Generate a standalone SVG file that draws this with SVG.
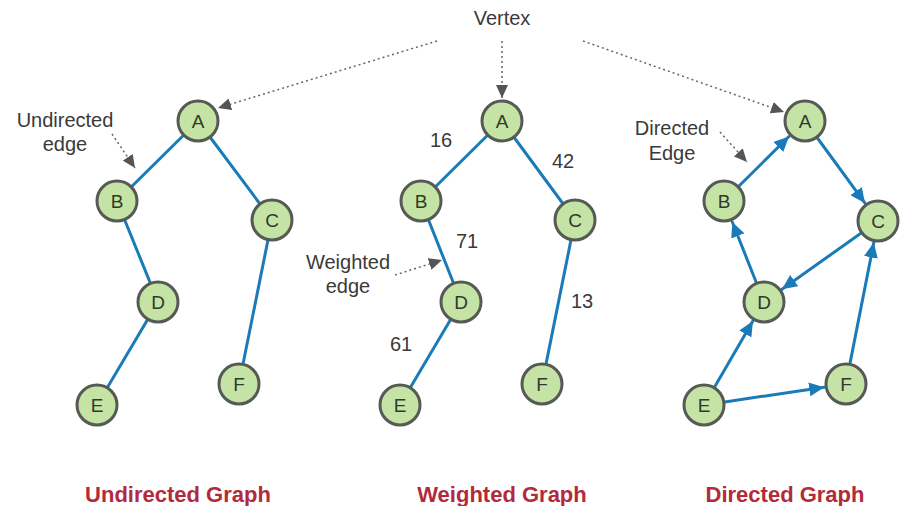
<svg xmlns="http://www.w3.org/2000/svg" width="903" height="506" viewBox="0 0 903 506">
<defs>
<style>
.edge{stroke:#1b7bb8;stroke-width:3;fill:none;stroke-linecap:round}
.darr{marker-end:url(#blueHead)}
.dot{stroke:#666;stroke-width:1.5;stroke-dasharray:2 3;fill:none;marker-end:url(#greyHead)}
.node circle{fill:#c4e3a4;stroke:#565a55;stroke-width:3}
.node text{font-family:"Liberation Sans",Arial,sans-serif;font-size:19px;fill:#2f3a2c;text-anchor:middle;dominant-baseline:central}
.lbl{font-family:"Liberation Sans",Arial,sans-serif;font-size:20px;fill:#3a3a3a;text-anchor:middle}
.title{font-family:"Liberation Sans",Arial,sans-serif;font-size:22px;font-weight:bold;fill:#b32a3b;text-anchor:middle}
</style>
<marker id="blueHead" markerUnits="userSpaceOnUse" markerWidth="16" markerHeight="14" refX="15" refY="7" orient="auto">
<path d="M0,0 L15,7 L0,14 z" fill="#1b7bb8"/>
</marker>
<marker id="greyHead" markerUnits="userSpaceOnUse" markerWidth="14" markerHeight="12" refX="13" refY="6" orient="auto">
<path d="M0,0 L13,6 L0,12 z" fill="#555"/>
</marker>
</defs>
<rect width="903" height="506" fill="#fff"/>

<g id="connectors">
<!-- Undirected graph -->
<line class="edge" x1="198" y1="121" x2="117" y2="201"/>
<line class="edge" x1="198" y1="121" x2="272" y2="220"/>
<line class="edge" x1="117" y1="201" x2="158" y2="302"/>
<line class="edge" x1="158" y1="302" x2="97" y2="405"/>
<line class="edge" x1="272" y1="220" x2="239" y2="384"/>
<!-- Weighted graph -->
<line class="edge" x1="502" y1="121" x2="421" y2="201"/>
<line class="edge" x1="502" y1="121" x2="575" y2="220"/>
<line class="edge" x1="421" y1="201" x2="461" y2="302"/>
<line class="edge" x1="461" y1="302" x2="400" y2="405"/>
<line class="edge" x1="575" y1="220" x2="542" y2="384"/>
<!-- Directed graph -->
<line class="edge darr" x1="739" y1="186" x2="789" y2="136.5"/>
<line class="edge darr" x1="817.4" y1="138" x2="865" y2="203.2"/>
<line class="edge darr" x1="860.9" y1="233.2" x2="782" y2="289.3"/>
<line class="edge darr" x1="756.3" y1="282.5" x2="732.3" y2="222"/>
<line class="edge darr" x1="714.6" y1="386.9" x2="752.9" y2="321"/>
<line class="edge darr" x1="724.8" y1="401.9" x2="824.2" y2="387.2"/>
<line class="edge darr" x1="850" y1="363.4" x2="873.8" y2="242.6"/>
<!-- annotation pointers -->
<line class="dot" x1="437" y1="41" x2="218" y2="108"/>
<line class="dot" x1="502" y1="41" x2="502" y2="98"/>
<line class="dot" x1="583" y1="41" x2="784" y2="112"/>
<line class="dot" x1="112" y1="134" x2="135" y2="168"/>
<line class="dot" x1="395" y1="275" x2="442" y2="260"/>
<line class="dot" x1="720" y1="132" x2="747" y2="162"/>
</g>

<g id="labels">
<text class="lbl" x="502" y="25">Vertex</text>
<text class="lbl" x="65" y="127">Undirected</text>
<text class="lbl" x="65" y="151">edge</text>
<text class="lbl" x="348" y="269">Weighted</text>
<text class="lbl" x="348" y="293">edge</text>
<text class="lbl" x="672" y="135">Directed</text>
<text class="lbl" x="672" y="160">Edge</text>
<text class="lbl" x="441" y="147">16</text>
<text class="lbl" x="563" y="168">42</text>
<text class="lbl" x="467" y="248">71</text>
<text class="lbl" x="582" y="308">13</text>
<text class="lbl" x="401" y="351">61</text>
<text class="title" x="178" y="502">Undirected Graph</text>
<text class="title" x="502" y="502">Weighted Graph</text>
<text class="title" x="785" y="502">Directed Graph</text>
</g>

<g id="u-A" class="node"><circle cx="198" cy="121" r="20"/><text x="198" y="121">A</text></g>
<g id="u-B" class="node"><circle cx="117" cy="201" r="20"/><text x="117" y="201">B</text></g>
<g id="u-C" class="node"><circle cx="272" cy="220" r="20"/><text x="272" y="220">C</text></g>
<g id="u-D" class="node"><circle cx="158" cy="302" r="20"/><text x="158" y="302">D</text></g>
<g id="u-E" class="node"><circle cx="97" cy="405" r="20"/><text x="97" y="405">E</text></g>
<g id="u-F" class="node"><circle cx="239" cy="384" r="20"/><text x="239" y="384">F</text></g>

<g id="w-A" class="node"><circle cx="502" cy="121" r="20"/><text x="502" y="121">A</text></g>
<g id="w-B" class="node"><circle cx="421" cy="201" r="20"/><text x="421" y="201">B</text></g>
<g id="w-C" class="node"><circle cx="575" cy="220" r="20"/><text x="575" y="220">C</text></g>
<g id="w-D" class="node"><circle cx="461" cy="302" r="20"/><text x="461" y="302">D</text></g>
<g id="w-E" class="node"><circle cx="400" cy="405" r="20"/><text x="400" y="405">E</text></g>
<g id="w-F" class="node"><circle cx="542" cy="384" r="20"/><text x="542" y="384">F</text></g>

<g id="d-A" class="node"><circle cx="805" cy="121" r="20"/><text x="805" y="121">A</text></g>
<g id="d-B" class="node"><circle cx="724" cy="201" r="20"/><text x="724" y="201">B</text></g>
<g id="d-C" class="node"><circle cx="878" cy="221" r="20"/><text x="878" y="221">C</text></g>
<g id="d-D" class="node"><circle cx="764" cy="302" r="20"/><text x="764" y="302">D</text></g>
<g id="d-E" class="node"><circle cx="704" cy="405" r="20"/><text x="704" y="405">E</text></g>
<g id="d-F" class="node"><circle cx="846" cy="384" r="20"/><text x="846" y="384">F</text></g>
</svg>
